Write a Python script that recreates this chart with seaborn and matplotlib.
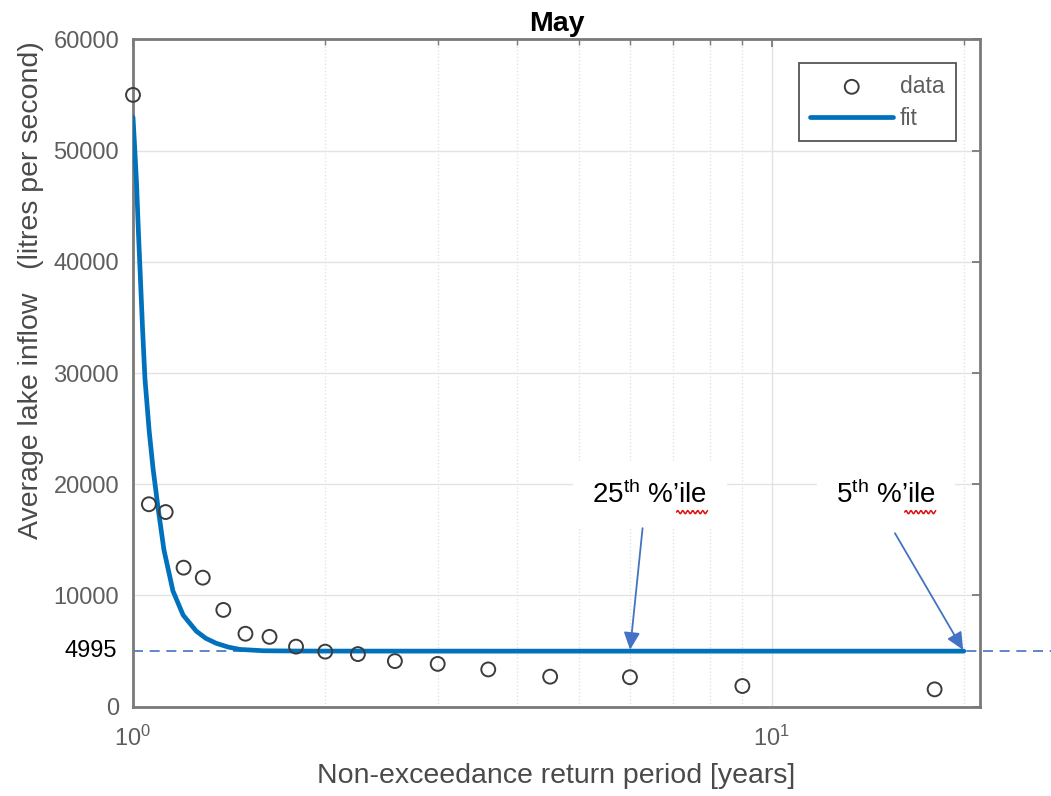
import numpy as np
import pandas as pd
import matplotlib
matplotlib.use("Agg")
import matplotlib.pyplot as plt
import seaborn as sns
from matplotlib.ticker import LogLocator, LogFormatterSciNotation, NullLocator

# ---------------- data ----------------
data_T = [1.0, 1.059, 1.125, 1.2, 1.286, 1.385, 1.5, 1.636, 1.8, 2.0,
          2.25, 2.571, 3.0, 3.6, 4.5, 6.0, 9.0, 18.0]
data_Q = [55000, 18200, 17500, 12500, 11600, 8700, 6560, 6280, 5400, 4950,
          4730, 4100, 3850, 3350, 2700, 2650, 1860, 1560]

fit_T = [1.0, 1.006, 1.013, 1.02, 1.025, 1.035, 1.044, 1.06, 1.075, 1.095,
         1.118, 1.155, 1.198, 1.256, 1.3, 1.35, 1.41, 1.47, 1.6, 1.8, 2.0,
         3.0, 5.0, 10.0, 20.0]
fit_Q = [53000, 50300, 47000, 42500, 39700, 34000, 29500, 24800, 21400, 17800,
         14100, 10400, 8240, 6800, 6150, 5700, 5360, 5150, 5030, 5005, 5000,
         4996, 4995, 4995, 4995]

ref_value = 4995
ref_label = "4995"
pct_labels = ["25$^{\\mathrm{th}}$ %\u2019ile", "5$^{\\mathrm{th}}$ %\u2019ile"]
pct_T = [6.0, 20.0]
pct_text_T = [6.45, 15.1]
pct_text_Q = [18300, 18300]
pct_tail_T = [6.28, 15.6]
pct_tail_Q = [16050, 15600]

title = "May"
xlabel = "Non-exceedance return period [years]"
ylabel = "Average lake inflow   (litres per second)"
yticks = [0, 10000, 20000, 30000, 40000, 50000, 60000]

# ---------------- style ----------------
sns.set_theme(style="white")
plt.rcParams["font.family"] = ["Liberation Sans", "DejaVu Sans"]
plt.rcParams["mathtext.fontset"] = "custom"
plt.rcParams["mathtext.rm"] = "Liberation Sans"
plt.rcParams["mathtext.it"] = "Liberation Sans:italic"
plt.rcParams["mathtext.bf"] = "Liberation Sans:bold"

tick_col = "#5e5e5e"
label_col = "#4a4a4a"
spine_col = "#7a7a7a"
grid_col = "#e3e3e3"
fit_col = "#0072BD"
ann_col = "#4472C4"

fig = plt.figure(figsize=(10.51, 7.96), dpi=100)
ax = fig.add_axes([133 / 1051, 1 - 706.7 / 796, 847 / 1051, 667.4 / 796])

df_data = pd.DataFrame({"T": data_T, "Q": data_Q})
df_fit = pd.DataFrame({"T": fit_T, "Q": fit_Q})

# reference dashed line (extends beyond axes to figure edge)
ax.plot([0, 1.085], [ref_value, ref_value], transform=ax.get_yaxis_transform(),
        color=ann_col, lw=1.2, dashes=(6, 4), clip_on=False, zorder=2)

sns.lineplot(data=df_fit, x="T", y="Q", ax=ax, color=fit_col, lw=3.4,
             label="fit", zorder=3, sort=False)
sns.scatterplot(data=df_data, x="T", y="Q", ax=ax, marker="o", s=100,
                facecolors="none", edgecolors="#3c3c3c", linewidth=1.4,
                label="data", zorder=4, clip_on=False)

ax.set_xscale("log")
ax.set_xlim(1, 21.2)
ax.set_ylim(0, 60000)
ax.set_yticks(yticks)
ax.yaxis.set_minor_locator(NullLocator())
ax.xaxis.set_major_locator(LogLocator(base=10))
ax.xaxis.set_minor_locator(LogLocator(base=10, subs=np.arange(2, 10)))
ax.xaxis.set_major_formatter(LogFormatterSciNotation())

# grid
ax.grid(which="major", axis="both", color=grid_col, lw=1.0, zorder=0)
ax.grid(which="minor", axis="x", color=grid_col, lw=1.0, ls=(0, (1, 1.5)), zorder=0)
ax.set_axisbelow(True)

for s in ax.spines.values():
    s.set_visible(True)
    s.set_color(spine_col)
    s.set_linewidth(2.0)

ax.tick_params(which="both", direction="in", top=True, right=True,
               colors=spine_col, labelcolor=tick_col)
ax.tick_params(which="major", length=6, width=1.3, labelsize=17)
ax.tick_params(which="minor", length=4, width=1.0)
ax.tick_params(axis="y", pad=10)
ax.tick_params(axis="x", pad=14)

ax.set_title(title, fontsize=20.5, fontweight="bold", color="black", pad=6)
ax.set_xlabel(xlabel, fontsize=20.5, color=label_col)
ax.xaxis.set_label_coords(0.5, -0.085)
ax.set_ylabel(ylabel, fontsize=20.5, color=label_col)
ax.yaxis.set_label_coords(-0.105, 0.624)

# 4995 label
ax.text(-0.019, ref_value, ref_label, transform=ax.get_yaxis_transform(),
        ha="right", va="center", fontsize=17, color="black")

# percentile annotations
pct_texts = []
for lab, tx, ty, tt, tq, tip in zip(pct_labels, pct_text_T, pct_text_Q,
                                    pct_tail_T, pct_tail_Q, pct_T):
    t = ax.text(tx, ty, lab, ha="center", va="baseline", fontsize=20, color="black",
                zorder=6, bbox=dict(boxstyle="square,pad=0.7", fc="white", ec="none"))
    pct_texts.append(t)
    ax.annotate("", xy=(tip, ref_value), xytext=(tt, tq),
                arrowprops=dict(arrowstyle="-|>,head_length=0.75,head_width=0.35",
                                color=ann_col, lw=1.3, shrinkA=0, shrinkB=1,
                                mutation_scale=14),
                zorder=7)

# legend (data first, then fit)
handles, labels = ax.get_legend_handles_labels()
order = [labels.index("data"), labels.index("fit")]
leg = ax.legend([handles[i] for i in order], [labels[i] for i in order],
                loc="upper right", fontsize=16.5, frameon=True, fancybox=False,
                edgecolor="#555555", framealpha=1, handlelength=3.6,
                handletextpad=0.3, borderpad=0.5, labelspacing=0.4,
                borderaxespad=1.05)
leg.get_frame().set_linewidth(1.3)
for t in leg.get_texts():
    t.set_color(tick_col)

# spell-check style red squiggle under "ile" (decoration, display coords)
fig.canvas.draw()
renderer = fig.canvas.get_renderer()
for t in pct_texts:
    bb = t.get_window_extent(renderer)
    x1 = bb.x1
    x0 = x1 - 31
    ybase = bb.y0 - 3
    xs = np.linspace(x0, x1, 40)
    ys = ybase + 1.6 * np.sin((xs - x0) / 5.0 * 2 * np.pi)
    fig.add_artist(plt.Line2D(xs, ys, transform=None, color="#e01010", lw=1.1,
                              zorder=8))

fig.savefig("out.png", dpi=100)
